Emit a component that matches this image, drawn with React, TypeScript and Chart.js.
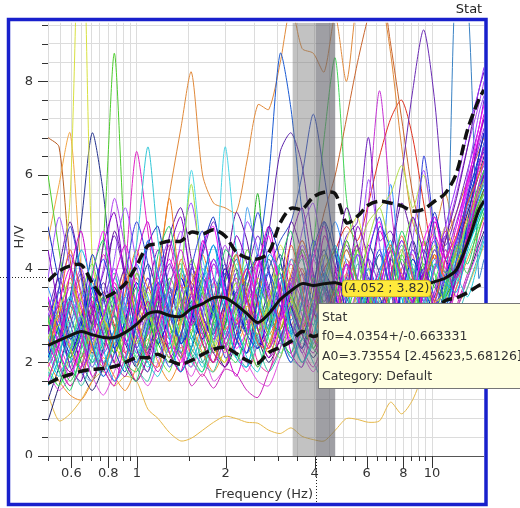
import React, { useEffect, useRef } from "react";
import { Chart, registerables } from "chart.js";

Chart.register(...registerables);

const FONT = "'DejaVu Sans', sans-serif";

// frequency grid (Hz)
const FREQ = [
  0.5, 0.545, 0.594, 0.648, 0.706, 0.77, 0.839, 0.914, 0.997, 1.09,
  1.18, 1.29, 1.41, 1.53, 1.67, 1.82, 1.99, 2.17, 2.36, 2.57,
  2.8, 3.06, 3.33, 3.63, 3.96, 4.31, 4.7, 5.13, 5.59, 6.09,
  6.64, 7.24, 7.89, 8.6, 9.37, 10.2, 11.1, 12.1, 13.2, 14.4,
  15,
];

// average H/V and its standard deviation curves
const MEAN = [
  2.36, 2.47, 2.57, 2.66, 2.59, 2.53, 2.53, 2.64, 2.81, 3.04,
  3.08, 3.0, 2.98, 3.15, 3.25, 3.38, 3.38, 3.23, 3.04, 2.85,
  3.04, 3.34, 3.53, 3.68, 3.64, 3.68, 3.7, 3.64, 3.62, 3.62,
  3.64, 3.64, 3.66, 3.66, 3.66, 3.72, 3.8, 3.98, 4.55, 5.25,
  5.45,
];
const STD_HI = [
  3.74, 3.95, 4.06, 4.08, 3.7, 3.4, 3.49, 3.68, 4.06, 4.49,
  4.53, 4.59, 4.59, 4.78, 4.74, 4.83, 4.7, 4.36, 4.23, 4.21,
  4.34, 4.98, 5.29, 5.27, 5.53, 5.63, 5.6, 4.98, 5.12, 5.36,
  5.44, 5.4, 5.34, 5.23, 5.27, 5.44, 5.61, 6.04, 6.97, 7.61,
  7.82,
];
const STD_LO = [
  1.55, 1.66, 1.74, 1.81, 1.85, 1.87, 1.91, 2.0, 2.1, 2.1,
  2.17, 2.04, 1.96, 2.04, 2.17, 2.28, 2.32, 2.19, 2.04, 1.98,
  2.21, 2.32, 2.45, 2.66, 2.55, 2.64, 2.72, 2.75, 2.7, 2.82,
  2.9, 2.86, 2.95, 3.05, 3.0, 3.1, 3.32, 3.38, 3.49, 3.64,
  3.68,
];

const F0 = 4.0354;
const F0_STD = 0.663331;
const CURSOR_X = 4.052;
const CURSOR_Y = 3.82;
const CURSOR_TEXT = "(4.052 ; 3.82)";
const TOOLTIP_LINES = ["Stat", "f0=4.0354+/-0.663331", "A0=3.73554 [2.45623,5.68126]", "Category: Default"];
const X_TITLE = "Frequency (Hz)";
const Y_TITLE = "H/V";
const TOP_LABEL = "Stat";

const X_TICKS = [0.5, 0.55, 0.6, 0.65, 0.7, 0.75, 0.8, 0.85, 0.9, 0.95, 1, 1.5, 2, 2.5, 3, 3.5, 4, 4.5, 5, 5.5, 6, 6.5, 7, 7.5, 8, 8.5, 9, 9.5, 10];
const X_TICK_LABELS = ["", "", "0.6", "", "", "", "0.8", "", "", "", "1", "", "2", "", "", "", "4", "", "", "", "6", "", "", "", "8", "", "", "", "10"];
const Y_TICKS = [0, 0.4, 0.8, 1.2, 1.6, 2, 2.4, 2.8, 3.2, 3.6, 4, 4.4, 4.8, 5.2, 5.6, 6, 6.4, 6.8, 7.2, 7.6, 8, 8.4, 8.8, 9.2];
const Y_TICK_LABELS = ["0", "", "", "", "", "2", "", "", "", "", "4", "", "", "", "", "6", "", "", "", "", "8", "", "", ""];

// individual window curves
const s01 = [2.8, 3.6, 5.5, 13, 4.2, 3.0, 2.2, 2.7, 3.9, 3.1, 2.4, 2.6, 3.4, 3.9, 2.8, 2.3, 3.0, 4.1, 3.6, 2.7, 3.3, 4.5, 3.8, 2.9, 3.2, 3.9, 3.4, 4.6, 5.1, 4.0, 3.3, 3.7, 4.4, 3.6, 3.1, 4.0, 4.9, 4.3, 5.0, 5.7, 5.9];
const s02 = [6.0, 4.4, 3.0, 2.5, 3.2, 4.6, 8.6, 4.4, 2.9, 2.3, 2.9, 3.8, 3.2, 2.6, 2.2, 2.9, 3.7, 4.3, 3.4, 2.7, 3.3, 4.1, 3.2, 2.6, 3.0, 3.7, 4.4, 3.5, 2.9, 3.6, 4.3, 3.5, 3.0, 3.8, 4.6, 3.9, 3.3, 4.1, 5.0, 5.8, 6.1];
const s03 = [6.8, 6.6, 4.2, 2.9, 2.2, 2.8, 3.6, 2.9, 2.2, 2.6, 3.4, 3.0, 2.3, 2.9, 3.8, 3.2, 2.4, 2.8, 3.6, 4.2, 3.3, 2.7, 3.4, 4.0, 3.1, 2.6, 3.3, 4.2, 3.5, 2.9, 3.6, 4.4, 3.8, 3.0, 3.5, 4.3, 3.6, 3.9, 4.6, 5.4, 5.7];
const s04 = [4.6, 5.8, 6.9, 4.0, 2.8, 2.3, 3.1, 3.8, 3.0, 2.3, 2.8, 3.6, 2.7, 2.2, 2.9, 3.7, 3.1, 2.4, 2.9, 3.8, 3.2, 2.5, 3.0, 3.9, 3.4, 2.6, 3.1, 3.9, 3.2, 2.7, 3.4, 4.2, 3.5, 2.9, 3.6, 4.4, 3.7, 4.0, 4.6, 5.2, 5.4];
const s05 = [3.0, 2.6, 3.4, 5.0, 6.9, 5.6, 3.4, 2.6, 3.2, 4.1, 3.4, 2.6, 3.1, 4.0, 3.5, 2.7, 3.3, 4.2, 3.4, 2.8, 3.6, 4.3, 3.5, 2.9, 3.7, 4.4, 3.6, 3.0, 3.5, 4.5, 3.9, 3.2, 3.7, 4.6, 3.8, 3.2, 3.9, 4.7, 5.4, 6.2, 6.6];
const s06 = [3.2, 2.6, 3.0, 3.8, 3.1, 2.5, 3.2, 4.0, 3.3, 2.8, 4.0, 5.6, 7.0, 8.2, 6.0, 5.4, 5.3, 5.2, 6.3, 7.5, 7.4, 8.4, 9.6, 8.7, 8.6, 8.2, 9.4, 8.0, 9.8, 10.5, 10.0, 8.6, 6.6, 5.0, 4.5, 4.8, 5.6, 4.6, 5.2, 6.0, 6.2];
const s07 = [2.5, 3.0, 2.3, 2.9, 3.7, 3.0, 2.4, 3.1, 3.8, 3.0, 2.5, 3.2, 3.9, 3.1, 2.6, 3.3, 4.0, 3.3, 2.7, 3.4, 4.2, 3.4, 2.8, 3.5, 4.2, 5.2, 6.0, 7.2, 8.4, 9.4, 10.2, 8.8, 7.2, 5.6, 4.6, 4.0, 4.6, 5.2, 5.9, 6.5, 6.8];
const s08 = [2.7, 3.2, 2.6, 2.1, 2.8, 3.5, 2.8, 2.2, 2.9, 3.6, 2.9, 2.3, 3.0, 3.7, 3.0, 2.5, 3.2, 3.8, 3.1, 2.6, 3.3, 3.9, 3.2, 2.7, 3.4, 4.0, 4.4, 4.9, 4.6, 5.4, 6.4, 7.2, 7.6, 6.8, 5.4, 4.2, 4.8, 4.3, 5.0, 5.7, 6.0];
const s09 = [3.0, 2.5, 3.2, 3.9, 3.1, 2.6, 3.3, 4.0, 3.2, 2.7, 3.4, 4.1, 3.3, 2.8, 3.5, 4.2, 3.4, 2.9, 3.6, 4.3, 3.6, 3.0, 3.7, 4.4, 3.7, 3.1, 3.8, 4.5, 3.8, 3.4, 4.0, 4.4, 6.0, 7.8, 9.1, 7.6, 5.0, 3.8, 4.6, 5.6, 6.1];
const s10 = [2.4, 2.9, 3.6, 2.9, 2.3, 3.0, 3.7, 3.0, 2.4, 3.1, 3.8, 3.1, 2.5, 3.2, 3.9, 3.2, 2.6, 3.3, 4.0, 3.3, 2.7, 3.4, 4.1, 3.4, 2.8, 3.5, 3.0, 3.3, 3.8, 5.4, 7.8, 5.4, 3.6, 3.0, 3.7, 4.4, 3.8, 4.7, 5.7, 6.7, 7.2];
const s11 = [2.6, 3.1, 2.5, 3.0, 3.8, 3.1, 2.5, 3.2, 3.9, 3.2, 2.6, 3.3, 4.0, 3.3, 2.7, 3.4, 4.1, 3.4, 2.8, 3.5, 4.2, 3.5, 2.9, 3.6, 4.3, 3.6, 3.0, 3.7, 4.4, 3.7, 3.1, 3.8, 4.5, 3.8, 3.2, 2.9, 3.3, 10.5, 9.8, 3.8, 4.2];
const s12 = [2.3, 2.8, 3.4, 2.7, 2.2, 2.9, 3.6, 2.9, 2.3, 3.0, 3.7, 3.0, 2.4, 3.1, 3.8, 3.1, 2.5, 3.2, 3.9, 4.3, 6.0, 8.6, 7.4, 5.2, 3.6, 3.0, 3.7, 4.4, 3.7, 3.1, 3.8, 4.5, 3.8, 3.2, 3.9, 4.6, 3.9, 4.6, 5.4, 6.2, 6.6];
const s13 = [3.3, 2.7, 2.1, 2.8, 3.6, 2.9, 2.3, 2.9, 3.7, 3.0, 2.4, 3.0, 3.8, 3.1, 2.5, 3.1, 3.9, 3.2, 2.6, 3.3, 4.0, 4.6, 5.0, 6.0, 7.3, 6.0, 4.4, 3.4, 2.9, 3.6, 4.3, 3.6, 3.0, 3.7, 4.4, 3.7, 3.2, 4.0, 4.8, 5.6, 6.0];
const s14 = [2.9, 3.5, 2.8, 2.3, 3.0, 3.7, 3.0, 2.4, 3.1, 3.8, 3.1, 2.5, 3.2, 3.9, 3.2, 2.6, 3.3, 4.0, 3.3, 3.8, 4.8, 6.5, 6.9, 6.2, 4.5, 3.6, 3.1, 3.8, 4.5, 3.8, 3.2, 3.9, 4.6, 3.9, 3.3, 4.0, 4.7, 4.1, 4.9, 5.7, 6.1];
const s15 = [2.1, 2.6, 3.3, 2.6, 2.0, 2.7, 3.4, 2.7, 2.1, 2.8, 3.5, 2.8, 2.2, 2.9, 3.6, 2.9, 2.3, 3.0, 3.7, 3.0, 2.4, 3.1, 3.8, 3.1, 4.5, 6.8, 8.5, 5.5, 4.2, 3.4, 2.9, 3.6, 4.3, 3.6, 3.0, 3.7, 4.4, 3.8, 4.6, 5.3, 5.6];
const s16 = [2.5, 2.0, 2.6, 3.3, 2.6, 2.0, 2.7, 3.4, 4.5, 6.6, 4.6, 3.2, 2.5, 3.2, 4.0, 3.3, 2.6, 3.3, 4.1, 3.4, 2.7, 3.4, 4.2, 3.5, 2.8, 3.5, 4.3, 3.6, 2.9, 3.7, 3.1, 2.5, 3.2, 4.0, 3.3, 2.7, 3.4, 4.2, 4.9, 5.5, 5.8];
const s17 = [3.0, 2.4, 1.9, 2.6, 3.3, 2.6, 2.0, 4.0, 6.5, 4.8, 3.3, 2.6, 2.1, 2.8, 3.5, 2.8, 2.2, 2.9, 3.6, 2.9, 2.3, 3.0, 3.7, 3.0, 2.4, 3.1, 3.8, 3.1, 2.5, 3.2, 3.9, 3.2, 2.6, 3.3, 4.0, 3.4, 2.9, 3.6, 4.5, 5.3, 5.7];
const s18 = [2.2, 2.7, 3.4, 2.7, 2.1, 2.8, 3.5, 2.8, 2.2, 2.9, 3.6, 2.9, 3.8, 6.1, 4.2, 3.6, 6.6, 4.4, 3.0, 2.4, 3.1, 3.8, 3.1, 2.5, 3.2, 3.9, 3.2, 2.6, 3.3, 4.0, 3.3, 2.7, 3.4, 4.1, 3.4, 2.8, 3.5, 4.3, 5.0, 5.6, 5.9];
const s19 = [2.6, 3.2, 2.5, 2.0, 2.7, 3.4, 2.7, 2.1, 2.8, 3.5, 2.8, 2.2, 2.9, 3.6, 2.9, 2.3, 3.0, 3.7, 3.0, 2.4, 3.1, 3.8, 3.1, 2.5, 3.2, 3.9, 3.2, 3.6, 4.4, 5.0, 5.3, 5.6, 6.2, 5.3, 6.0, 4.8, 4.0, 4.7, 5.4, 6.0, 6.3];
const s20 = [1.3, 0.75, 0.9, 1.2, 1.6, 1.8, 1.5, 1.7, 1.6, 1.0, 0.8, 0.5, 0.32, 0.38, 0.55, 0.72, 0.85, 0.8, 0.72, 0.7, 0.55, 0.48, 0.6, 0.42, 0.35, 0.32, 0.55, 0.8, 0.78, 0.72, 0.75, 1.15, 0.9, 1.2, 1.8, 2.4, 3.0, 3.2, 3.6, 4.2, 4.5];
const s21 = [2.4, 1.9, 1.5, 1.9, 2.5, 2.0, 1.6, 2.1, 2.7, 2.2, 1.8, 2.3, 2.2, 1.5, 1.75, 1.45, 1.85, 1.75, 1.4, 1.25, 1.8, 2.3, 2.8, 2.3, 1.9, 2.5, 3.1, 2.6, 2.1, 2.6, 3.2, 2.7, 2.3, 2.8, 3.4, 2.9, 2.6, 3.2, 3.9, 4.6, 5.0];
const s22 = [0.75, 1.5, 2.2, 1.8, 1.4, 1.9, 2.5, 2.0, 1.6, 2.1, 2.7, 2.2, 1.8, 2.3, 2.9, 2.4, 1.9, 2.4, 3.0, 2.5, 2.0, 2.5, 3.1, 2.6, 2.1, 2.6, 3.2, 2.7, 2.2, 2.7, 3.3, 2.8, 2.3, 2.8, 3.4, 2.9, 2.5, 3.1, 3.8, 4.5, 4.8];
const s23 = [2.0, 1.6, 1.3, 1.2, 1.6, 2.1, 1.7, 1.4, 1.9, 2.5, 2.0, 1.6, 2.1, 2.7, 2.2, 1.8, 2.3, 2.9, 2.4, 1.9, 2.4, 3.0, 2.5, 2.0, 2.5, 3.1, 2.6, 2.1, 2.6, 3.2, 2.7, 2.2, 2.7, 3.3, 2.8, 2.4, 3.0, 3.6, 4.2, 4.8, 5.1];
const s24 = [1.8, 1.4, 1.7, 2.2, 1.7, 1.3, 1.8, 2.4, 1.9, 1.5, 2.0, 2.6, 2.1, 1.7, 2.2, 1.6, 1.9, 2.5, 2.0, 1.6, 1.5, 2.1, 2.7, 2.2, 1.8, 2.3, 2.9, 2.4, 2.0, 2.5, 3.1, 2.6, 2.2, 2.7, 3.3, 2.8, 2.5, 3.1, 3.8, 4.4, 4.7];
const s25 = [2.3, 1.8, 2.2, 2.8, 2.3, 1.9, 2.4, 3.0, 2.5, 2.0, 2.5, 3.1, 2.6, 2.1, 2.6, 3.2, 2.7, 2.2, 1.9, 2.4, 3.0, 2.5, 2.0, 2.5, 2.0, 1.6, 2.1, 2.7, 2.2, 1.5, 1.9, 2.5, 2.1, 2.6, 3.1, 2.6, 2.2, 2.9, 3.6, 4.3, 4.7];

const b01 = [2.6, 3.2, 2.3, 1.8, 2.6, 3.4, 2.7, 2.1, 3.0, 3.8, 2.9, 2.4, 3.5, 4.1, 3.0, 2.5, 2.9, 3.9, 3.3, 2.4, 2.8, 3.6, 3.1, 2.2, 3.0, 3.9, 3.4, 2.6, 3.2, 4.2, 3.6, 2.8, 3.5, 4.4, 3.7, 3.3, 4.2, 5.0, 5.8, 6.6, 7.0];
const b02 = [1.9, 2.4, 3.3, 2.6, 1.7, 2.2, 3.1, 3.7, 2.8, 2.1, 2.7, 3.6, 4.4, 3.5, 2.6, 2.0, 2.5, 3.4, 4.0, 3.2, 2.3, 2.9, 3.8, 3.3, 2.5, 2.2, 3.0, 4.1, 3.4, 2.7, 2.3, 3.1, 3.9, 3.2, 2.8, 3.5, 4.4, 3.8, 4.6, 5.8, 6.3];
const b03 = [3.4, 2.7, 2.0, 2.6, 3.5, 4.2, 3.3, 2.5, 2.0, 2.8, 3.7, 3.1, 2.4, 2.9, 3.8, 4.5, 3.6, 2.7, 2.2, 3.0, 3.9, 3.2, 2.6, 3.3, 4.6, 3.8, 2.9, 2.4, 3.1, 3.7, 4.4, 3.5, 2.7, 3.3, 4.0, 3.4, 3.0, 3.9, 4.8, 5.5, 5.9];
const b04 = [2.2, 1.7, 2.3, 3.0, 2.4, 1.8, 2.5, 3.2, 2.6, 2.0, 1.7, 2.4, 3.1, 2.5, 1.9, 2.6, 3.4, 2.8, 2.1, 1.8, 2.6, 3.3, 2.7, 2.0, 2.4, 3.0, 2.5, 2.1, 2.8, 3.5, 2.9, 2.3, 2.7, 3.2, 2.6, 2.4, 3.1, 3.8, 3.4, 4.2, 4.6];
const b05 = [2.9, 2.2, 1.6, 2.1, 2.8, 3.4, 2.7, 2.0, 1.8, 2.4, 3.3, 2.8, 2.1, 2.6, 3.5, 3.0, 2.3, 2.0, 2.7, 3.6, 3.1, 2.5, 2.2, 2.9, 3.8, 3.2, 2.6, 3.0, 3.7, 3.1, 2.7, 3.4, 4.2, 3.6, 3.0, 2.8, 3.5, 4.3, 3.9, 4.8, 5.2];
const b06 = [3.0, 3.6, 4.3, 3.5, 2.7, 3.3, 4.0, 3.2, 2.5, 3.1, 3.9, 4.6, 3.7, 2.9, 3.4, 4.2, 3.5, 2.8, 3.3, 4.1, 3.4, 2.9, 3.6, 4.5, 3.8, 3.1, 2.8, 3.5, 4.3, 3.6, 3.0, 3.7, 4.6, 3.9, 3.3, 4.0, 4.9, 5.8, 6.9, 7.8, 8.3];
const b07 = [1.2, 1.9, 2.6, 2.0, 1.6, 2.3, 3.0, 2.4, 1.9, 2.7, 3.4, 2.8, 2.2, 2.9, 2.4, 2.0, 2.8, 3.5, 2.9, 2.3, 2.7, 3.4, 2.8, 2.3, 3.0, 3.6, 3.1, 2.6, 2.9, 3.5, 3.0, 2.5, 3.1, 3.8, 3.3, 2.9, 3.6, 4.4, 5.2, 6.0, 6.4];
const b08 = [2.4, 3.0, 3.8, 3.1, 2.3, 1.9, 2.6, 3.5, 4.4, 3.6, 3.9, 5.5, 3.6, 3.7, 4.3, 3.4, 2.7, 3.2, 4.0, 3.3, 2.6, 3.1, 3.9, 4.6, 3.8, 3.1, 3.6, 4.4, 3.7, 3.2, 3.8, 4.5, 3.9, 3.3, 3.7, 4.3, 3.8, 4.4, 5.1, 5.6, 5.8];
const b09 = [2.0, 2.5, 3.2, 2.6, 2.0, 2.4, 3.0, 2.5, 2.0, 2.3, 2.9, 3.5, 2.9, 2.3, 2.0, 2.7, 3.4, 2.8, 2.2, 2.6, 3.3, 2.7, 2.1, 2.5, 3.2, 3.7, 3.0, 2.5, 2.8, 3.4, 2.9, 2.4, 2.9, 3.6, 3.1, 2.7, 3.4, 4.0, 4.6, 5.2, 5.5];
const b10 = [2.8, 2.2, 1.8, 2.4, 3.2, 2.6, 2.0, 1.7, 2.5, 3.3, 2.7, 2.1, 2.6, 3.4, 2.8, 2.2, 1.9, 2.6, 3.3, 2.7, 2.1, 2.5, 3.2, 2.6, 2.2, 2.8, 3.5, 2.9, 2.4, 3.0, 3.6, 3.0, 2.6, 3.2, 3.9, 3.3, 3.0, 3.8, 4.7, 5.6, 6.0];
const b11 = [3.6, 2.9, 2.3, 2.9, 3.8, 3.1, 2.5, 3.2, 4.1, 3.4, 2.7, 3.3, 4.0, 3.2, 2.6, 3.1, 3.9, 3.3, 2.7, 2.4, 3.1, 4.0, 3.4, 2.8, 3.3, 4.2, 5.0, 4.1, 3.3, 2.9, 3.6, 5.8, 3.7, 3.1, 3.5, 4.2, 3.6, 4.0, 4.9, 5.7, 6.1];
const b12 = [1.7, 2.2, 2.9, 2.4, 1.9, 2.5, 3.2, 2.7, 2.1, 1.8, 2.4, 3.0, 2.6, 2.0, 2.4, 3.1, 2.6, 2.1, 2.5, 3.2, 2.7, 2.2, 2.6, 3.3, 2.8, 2.3, 2.7, 3.2, 2.7, 2.5, 3.1, 3.7, 3.2, 2.8, 3.3, 3.9, 3.4, 3.7, 4.3, 4.9, 5.1];
const b13 = [2.3, 2.9, 2.4, 1.9, 2.4, 3.0, 3.7, 3.0, 2.4, 2.9, 3.6, 3.0, 2.4, 1.9, 2.5, 3.3, 2.8, 2.2, 1.8, 2.4, 3.1, 2.6, 2.1, 2.7, 3.4, 2.8, 2.3, 2.8, 3.5, 2.9, 2.4, 3.0, 3.7, 3.1, 2.7, 3.3, 4.0, 4.6, 5.4, 6.1, 6.5];
const b14 = [3.1, 3.8, 3.0, 2.4, 3.1, 3.9, 4.7, 3.8, 3.0, 3.6, 4.4, 3.6, 2.9, 3.5, 4.3, 5.0, 4.1, 3.3, 3.9, 4.7, 3.9, 3.2, 3.8, 4.6, 3.9, 3.3, 3.9, 4.7, 5.0, 6.8, 4.6, 4.8, 4.1, 3.6, 4.3, 5.1, 4.5, 5.2, 6.1, 7.0, 7.6];
const b15 = [2.5, 3.1, 3.7, 3.0, 2.4, 2.9, 3.5, 2.9, 2.4, 3.0, 2.6, 2.1, 3.9, 5.8, 3.6, 2.4, 3.0, 3.7, 3.1, 2.6, 3.2, 4.0, 3.4, 2.8, 3.4, 4.3, 3.6, 3.0, 3.5, 4.6, 5.3, 4.4, 3.6, 3.2, 3.8, 4.5, 3.9, 4.3, 5.0, 5.6, 5.9];
const b16 = [2.1, 2.7, 2.2, 2.8, 3.6, 2.9, 2.3, 2.9, 3.7, 3.0, 2.4, 3.0, 3.8, 3.1, 2.5, 3.2, 4.0, 3.3, 2.6, 2.3, 3.0, 3.8, 3.2, 2.6, 3.2, 3.9, 3.4, 2.8, 3.3, 4.0, 3.4, 2.9, 3.5, 4.2, 3.6, 3.1, 3.8, 4.6, 5.5, 6.4, 6.9];
const b17 = [1.8, 1.5, 2.0, 2.6, 2.1, 1.7, 2.2, 2.8, 2.3, 1.9, 2.4, 3.0, 2.5, 2.0, 1.8, 2.4, 3.0, 2.5, 2.0, 2.5, 3.1, 2.6, 2.1, 1.9, 2.6, 3.2, 2.7, 2.2, 2.6, 3.1, 2.6, 2.3, 2.9, 3.4, 2.9, 2.6, 3.2, 3.8, 4.5, 5.0, 5.3];
const b18 = [2.7, 3.3, 4.0, 3.2, 2.5, 3.0, 3.8, 4.5, 3.6, 2.9, 3.5, 4.2, 3.4, 2.8, 3.3, 4.1, 3.4, 2.8, 3.4, 4.2, 3.5, 2.9, 3.5, 4.3, 3.6, 3.0, 3.4, 4.1, 3.5, 3.0, 3.6, 4.4, 3.8, 3.3, 3.9, 4.7, 4.2, 4.9, 5.9, 6.8, 7.3];
const b19 = [2.2, 2.8, 2.3, 1.8, 2.3, 2.9, 2.4, 2.0, 2.6, 3.3, 2.7, 2.2, 2.8, 3.5, 2.9, 2.3, 2.0, 2.6, 3.2, 2.7, 2.2, 2.7, 3.3, 2.8, 2.4, 2.9, 3.5, 3.0, 2.5, 3.0, 3.6, 3.1, 2.7, 3.2, 3.8, 3.3, 3.5, 4.1, 4.7, 5.2, 5.4];
const b20 = [2.9, 2.3, 2.8, 3.5, 2.8, 2.2, 2.7, 3.4, 2.8, 2.3, 2.9, 3.6, 3.0, 2.5, 3.1, 3.8, 3.1, 2.5, 3.0, 3.7, 3.1, 2.5, 3.1, 3.9, 3.2, 2.7, 3.3, 4.1, 3.4, 2.9, 3.4, 4.2, 3.6, 3.0, 3.6, 4.4, 3.9, 4.5, 5.3, 6.2, 6.7];
const b21 = [3.3, 2.6, 2.1, 2.7, 3.4, 2.8, 2.2, 2.8, 3.6, 2.9, 2.4, 2.0, 2.6, 3.3, 2.7, 2.2, 2.8, 3.5, 3.8, 5.6, 2.9, 2.7, 3.4, 2.8, 2.3, 2.9, 3.6, 3.0, 2.6, 3.2, 3.8, 3.2, 2.8, 3.4, 4.1, 3.6, 3.4, 4.0, 4.7, 5.4, 5.7];
const b22 = [2.0, 2.6, 3.3, 4.0, 3.2, 4.0, 5.5, 4.4, 3.2, 2.6, 3.2, 4.0, 4.8, 3.9, 3.2, 3.7, 4.5, 3.7, 3.0, 3.6, 4.4, 3.6, 3.0, 3.5, 4.2, 3.5, 3.0, 3.6, 4.3, 3.7, 3.1, 3.6, 4.4, 3.8, 3.3, 4.0, 4.7, 5.6, 6.6, 7.5, 8.0];

const n01 = [1.6, 2.4, 3.9, 4.8, 3.2, 1.9, 1.5, 2.6, 4.2, 5.0, 3.6, 2.2, 1.8, 3.0, 4.6, 3.8, 2.4, 1.7, 2.5, 4.0, 4.9, 3.5, 2.2, 1.9, 3.1, 4.7, 4.0, 2.6, 2.0, 3.3, 4.8, 4.1, 2.8, 2.3, 3.6, 5.0, 4.2, 3.4, 4.8, 6.2, 6.6];
const n02 = [4.4, 3.1, 1.9, 1.6, 2.8, 4.5, 5.2, 3.7, 2.3, 1.8, 2.9, 4.4, 5.1, 3.6, 2.4, 2.0, 3.2, 4.7, 4.1, 2.7, 2.1, 3.0, 4.6, 5.3, 3.9, 2.6, 2.2, 3.4, 4.9, 4.2, 2.9, 2.4, 3.6, 5.1, 4.3, 3.1, 2.8, 4.0, 5.5, 6.8, 7.2];
const n03 = [2.2, 3.6, 4.9, 3.8, 2.4, 1.7, 2.2, 3.8, 5.0, 4.1, 2.6, 1.9, 2.5, 4.0, 4.8, 3.3, 2.1, 2.4, 3.9, 5.2, 4.0, 2.6, 2.0, 2.9, 4.4, 5.0, 3.5, 2.5, 2.9, 4.3, 5.1, 3.8, 2.7, 3.2, 6.4, 4.8, 3.2, 4.2, 5.6, 6.3, 6.5];
const n04 = [3.0, 1.8, 1.4, 2.3, 3.9, 4.6, 3.1, 1.9, 1.6, 2.8, 4.3, 4.9, 3.4, 2.2, 1.8, 2.9, 4.4, 4.0, 2.6, 1.9, 2.7, 4.1, 4.8, 3.3, 2.3, 2.1, 3.4, 4.6, 3.7, 2.5, 2.3, 3.6, 4.8, 4.0, 2.8, 2.6, 3.6, 4.5, 4.1, 5.0, 5.3];
const n05 = [1.5, 2.1, 3.3, 4.4, 3.6, 2.3, 1.6, 2.0, 3.4, 4.6, 3.9, 2.5, 1.8, 2.3, 3.7, 4.5, 3.2, 2.1, 1.9, 3.0, 4.3, 3.9, 2.6, 2.0, 2.5, 3.8, 4.5, 3.3, 2.3, 2.6, 3.9, 4.6, 3.4, 2.5, 2.9, 4.1, 3.7, 3.5, 4.4, 5.1, 5.4];
const n06 = [3.8, 5.1, 4.0, 2.6, 1.9, 2.7, 4.2, 5.3, 4.1, 2.7, 2.1, 3.0, 4.6, 5.4, 3.9, 2.6, 2.3, 3.5, 5.0, 4.4, 3.0, 2.4, 3.3, 4.8, 5.4, 4.0, 2.8, 2.6, 3.8, 5.9, 4.5, 3.1, 2.8, 4.6, 6.1, 4.6, 3.6, 4.6, 6.0, 7.3, 7.7];
const n07 = [2.9, 2.0, 1.5, 1.9, 3.1, 4.3, 3.5, 2.2, 1.6, 2.2, 3.6, 4.5, 3.3, 2.1, 1.7, 2.4, 3.8, 4.4, 3.0, 2.0, 1.8, 2.8, 4.2, 3.9, 2.6, 1.9, 2.4, 3.9, 4.5, 3.2, 2.3, 2.6, 4.0, 4.3, 3.0, 2.6, 3.3, 4.4, 5.0, 5.6, 5.9];
const n08 = [4.9, 3.7, 2.5, 2.9, 4.3, 3.4, 2.3, 1.8, 2.9, 4.5, 4.9, 3.4, 2.4, 2.9, 4.4, 5.1, 3.7, 2.5, 2.2, 3.4, 4.9, 4.2, 2.8, 2.3, 3.5, 5.0, 4.3, 3.0, 2.5, 3.5, 4.9, 4.4, 3.1, 2.7, 3.9, 5.2, 4.2, 3.9, 5.0, 6.4, 6.9];
const n09 = [2.0, 2.8, 2.1, 1.5, 2.1, 3.3, 3.9, 2.8, 1.9, 1.6, 2.5, 3.7, 4.1, 2.9, 2.0, 1.8, 2.7, 3.9, 3.6, 2.4, 1.8, 2.3, 3.6, 4.2, 3.0, 2.1, 2.0, 3.0, 4.1, 3.6, 2.5, 2.2, 3.2, 4.2, 3.5, 2.5, 2.9, 3.8, 4.5, 5.1, 5.3];
const n10 = [2.6, 4.0, 5.0, 3.9, 2.8, 3.4, 4.8, 3.9, 2.6, 2.2, 3.2, 4.7, 5.3, 4.2, 3.0, 2.6, 3.8, 5.2, 4.6, 3.3, 2.7, 3.6, 5.0, 4.3, 3.1, 2.8, 4.0, 5.3, 4.5, 3.3, 3.0, 4.2, 5.4, 4.6, 3.6, 3.4, 4.6, 5.5, 6.6, 7.8, 8.2];
const n11 = [1.9, 1.5, 2.2, 3.4, 4.1, 3.0, 2.0, 2.6, 3.9, 3.3, 2.2, 1.8, 2.9, 4.2, 3.5, 2.4, 2.0, 3.1, 4.4, 3.7, 2.5, 2.1, 3.2, 4.4, 3.6, 2.6, 2.3, 3.4, 4.4, 3.5, 2.7, 3.1, 4.3, 5.1, 4.0, 3.1, 3.7, 4.4, 4.9, 5.4, 5.6];
const n12 = [3.4, 2.3, 1.7, 2.4, 3.8, 4.8, 3.5, 2.4, 3.1, 4.6, 3.9, 2.6, 2.0, 3.0, 4.5, 4.9, 3.4, 2.3, 2.7, 4.1, 4.7, 3.4, 2.4, 2.8, 4.2, 4.9, 3.6, 2.7, 3.0, 4.4, 5.0, 3.7, 2.9, 3.3, 4.6, 5.1, 4.0, 4.7, 5.8, 7.0, 7.5];
const n13 = [2.4, 3.5, 2.6, 1.8, 1.6, 2.6, 3.8, 3.1, 2.2, 2.7, 4.0, 3.3, 2.2, 1.9, 2.9, 4.1, 3.4, 2.4, 5.3, 4.2, 3.5, 2.5, 2.2, 3.3, 4.3, 3.5, 2.6, 3.0, 4.3, 3.7, 2.8, 2.6, 3.7, 4.4, 3.6, 2.9, 3.6, 4.6, 5.4, 6.0, 6.2];
const n14 = [2.2, 3.2, 4.4, 3.4, 2.3, 1.8, 2.6, 3.9, 3.0, 2.1, 1.9, 2.9, 4.2, 3.5, 2.4, 2.0, 3.0, 4.3, 3.4, 2.4, 2.3, 3.4, 4.5, 3.6, 2.5, 2.4, 3.5, 4.6, 3.7, 2.7, 2.6, 3.8, 4.7, 3.8, 3.0, 3.3, 4.2, 4.7, 5.4, 6.0, 6.3];

// first entries are drawn on top; colours interleaved
const CURVES: [number[], string][] = [
  [b02, "#d21fd2"], [n05, "#00b8e0"], [n04, "#22cc66"], [n01, "#cc00cc"],
  [n03, "#3344dd"], [b15, "#a0e040"], [b18, "#e000e0"], [b04, "#1fc8d8"],
  [n14, "#f06030"], [n12, "#ff10ff"], [b05, "#33cc44"], [n08, "#1030c0"],
  [b10, "#a000a8"], [s16, "#30c6d6"], [b19, "#f0c020"], [n02, "#8000c0"],
  [n11, "#70e040"], [b03, "#2244ee"], [b06, "#9b30ff"], [s18, "#4cd6e6"],
  [b08, "#f08020"], [n06, "#a050ff"], [b21, "#20b020"], [b16, "#0000e0"],
  [s21, "#c828b8"], [b17, "#40e0d0"], [s01, "#d8e040"], [b01, "#8a2be2"],
  [n09, "#30c0a0"], [s12, "#1a5ad2"], [n10, "#6010a0"], [s25, "#3cbcbc"],
  [s23, "#f09030"], [b14, "#7020c0"], [b12, "#40f0a0"], [s13, "#2c4ec8"],
  [b22, "#b040f0"], [b09, "#20a0a0"], [s19, "#b4de4c"], [n07, "#e830a0"],
  [b20, "#4060e0"], [s02, "#4ccc2c"], [b13, "#ff40c8"], [n13, "#50a8f0"],
  [s04, "#f2a443"], [s24, "#e050e0"], [b11, "#3090ff"], [s15, "#44d858"],
  [s17, "#e020c4"], [s11, "#3a82c4"], [s10, "#c430d4"], [b07, "#1a1a80"],
  [s09, "#6a2ab4"], [s22, "#20206e"], [s14, "#5a22aa"], [s05, "#24328e"],
  [s20, "#e6b84a"], [s06, "#e0893a"], [s07, "#c8642c"], [s03, "#b85a1e"],
  [s08, "#e0301e"],
];

const overlayPlugin = {
  id: "hvOverlay",
  beforeDatasetDraw(chart: any, args: any) {
    if (args.index !== 2) return;
    const { ctx, chartArea: a, scales } = chart;
    const x = scales.x;
    const xl = x.getPixelForValue(F0 - F0_STD);
    const xm = x.getPixelForValue(F0);
    const xr = x.getPixelForValue(F0 + F0_STD);
    ctx.save();
    ctx.beginPath();
    ctx.rect(a.left, a.top, a.right - a.left, a.bottom - a.top);
    ctx.clip();
    ctx.fillStyle = "rgba(120,120,120,0.45)";
    ctx.fillRect(xl, a.top, xm - xl, a.bottom - a.top);
    ctx.fillStyle = "rgba(100,100,108,0.62)";
    ctx.fillRect(xm, a.top, xr - xm, a.bottom - a.top);
    ctx.restore();
  },
  afterDraw(chart: any) {
    const { ctx, chartArea: a, scales } = chart;
    const x = scales.x;
    const y = scales.y;
    ctx.save();
    ctx.strokeStyle = "#555";
    ctx.lineWidth = 1;
    ctx.beginPath();
    ctx.moveTo(a.left, a.bottom + 0.5);
    ctx.lineTo(a.right, a.bottom + 0.5);
    ctx.stroke();
    ctx.strokeStyle = "#333";
    ctx.beginPath();
    X_TICKS.forEach((v, i) => {
      const px = Math.round(x.getPixelForValue(v)) + 0.5;
      const len = X_TICK_LABELS[i] ? 12 : 5;
      ctx.moveTo(px, a.bottom);
      ctx.lineTo(px, a.bottom + len);
    });
    Y_TICKS.forEach((v, i) => {
      const py = Math.round(y.getPixelForValue(v)) + 0.5;
      const len = Y_TICK_LABELS[i] ? 10 : 6;
      ctx.moveTo(a.left - len, py);
      ctx.lineTo(a.left, py);
    });
    ctx.stroke();
    ctx.fillStyle = "#ffffff";
    ctx.fillRect(18, a.bottom + 2, 18, 12);
    const cx = Math.round(x.getPixelForValue(CURSOR_X)) + 0.5;
    const cy = Math.round(y.getPixelForValue(CURSOR_Y)) + 0.5;
    ctx.strokeStyle = "#222";
    ctx.setLineDash([1, 2]);
    ctx.beginPath();
    ctx.moveTo(cx, a.bottom);
    ctx.lineTo(cx, 504);
    ctx.moveTo(0, cy);
    ctx.lineTo(a.left, cy);
    ctx.stroke();
    ctx.setLineDash([]);
    ctx.fillStyle = "#333";
    ctx.font = `13px ${FONT}`;
    ctx.textAlign = "center";
    ctx.textBaseline = "middle";
    ctx.fillText(X_TITLE, 264, 495);
    ctx.save();
    ctx.translate(20, 237);
    ctx.rotate(-Math.PI / 2);
    ctx.fillText(Y_TITLE, 0, 0);
    ctx.restore();
    ctx.strokeStyle = "rgb(24,32,204)";
    ctx.lineWidth = 3.5;
    ctx.strokeRect(8.5, 19.5, 477.5, 485);
    ctx.fillStyle = "#222";
    ctx.fillText(TOP_LABEL, 469, 10);
    ctx.font = `12.5px ${FONT}`;
    ctx.fillStyle = "rgb(255,234,60)";
    ctx.strokeStyle = "rgb(215,190,40)";
    ctx.lineWidth = 1;
    ctx.beginPath();
    (ctx as any).roundRect(342.5, 280.5, 88, 16, 3);
    ctx.fill();
    ctx.stroke();
    ctx.fillStyle = "#333";
    ctx.fillText(CURSOR_TEXT, 386.5, 289);
    ctx.fillStyle = "#ffffe1";
    ctx.fillRect(318.5, 303.5, 220, 85);
    ctx.strokeStyle = "#767676";
    ctx.strokeRect(318.5, 303.5, 220, 85);
    ctx.fillStyle = "#333";
    ctx.textAlign = "left";
    TOOLTIP_LINES.forEach((t, i) => ctx.fillText(t, 322, 317.5 + i * 19.7));
    ctx.restore();
  },
};

export default function App() {
  const ref = useRef<HTMLCanvasElement>(null);
  useEffect(() => {
    if (!ref.current) return;
    const toPts = (v: number[]) => v.map((val, i) => ({ x: FREQ[i], y: val }));
    const base = { pointRadius: 0, pointHoverRadius: 0, fill: false, clip: 0 };
    const datasets: any[] = [
      { ...base, data: toPts(MEAN), borderColor: "#111", borderWidth: 3, tension: 0.3 },
      { ...base, data: toPts(STD_HI), borderColor: "#111", borderWidth: 3.5, borderDash: [11, 5], tension: 0.3 },
      { ...base, data: toPts(STD_LO), borderColor: "#111", borderWidth: 3.5, borderDash: [11, 5], tension: 0.3 },
      ...CURVES.map(([v, c]) => ({ ...base, data: toPts(v), borderColor: c, borderWidth: 1, tension: 0.25 })),
    ];
    const chart = new Chart(ref.current, {
      type: "line",
      data: { datasets },
      options: {
        responsive: false,
        animation: false,
        events: [],
        layout: { padding: { top: 21, right: 36, left: 0, bottom: 0 } },
        plugins: { legend: { display: false }, tooltip: { enabled: false } },
        scales: {
          x: {
            type: "logarithmic",
            min: 0.5,
            max: 15,
            bounds: "data",
            afterBuildTicks: (s: any) => { s.ticks = X_TICKS.map((value) => ({ value })); },
            afterFit: (s: any) => { s.height = 52; },
            grid: { color: "#dcdcdc", drawTicks: false },
            border: { display: false },
            ticks: {
              autoSkip: false,
              maxRotation: 0,
              minRotation: 0,
              padding: 10,
              color: "#333",
              font: { family: FONT, size: 13 },
              callback: (_v: any, i: number) => X_TICK_LABELS[i],
            },
          },
          y: {
            type: "linear",
            min: 0,
            max: 9.25,
            bounds: "data",
            afterBuildTicks: (s: any) => { s.ticks = Y_TICKS.map((value) => ({ value })); },
            afterFit: (s: any) => { s.width = 48; },
            grid: { color: "#dcdcdc", drawTicks: false },
            border: { display: false },
            ticks: {
              autoSkip: false,
              padding: 15,
              color: "#333",
              font: { family: FONT, size: 13 },
              callback: (_v: any, i: number) => Y_TICK_LABELS[i],
            },
          },
        },
      },
      plugins: [overlayPlugin],
    } as any);
    return () => chart.destroy();
  }, []);
  return (
    <div style={{ position: "absolute", left: 0, top: 0, width: 520, height: 508, background: "#fff" }}>
      <canvas ref={ref} width={520} height={508} />
    </div>
  );
}
